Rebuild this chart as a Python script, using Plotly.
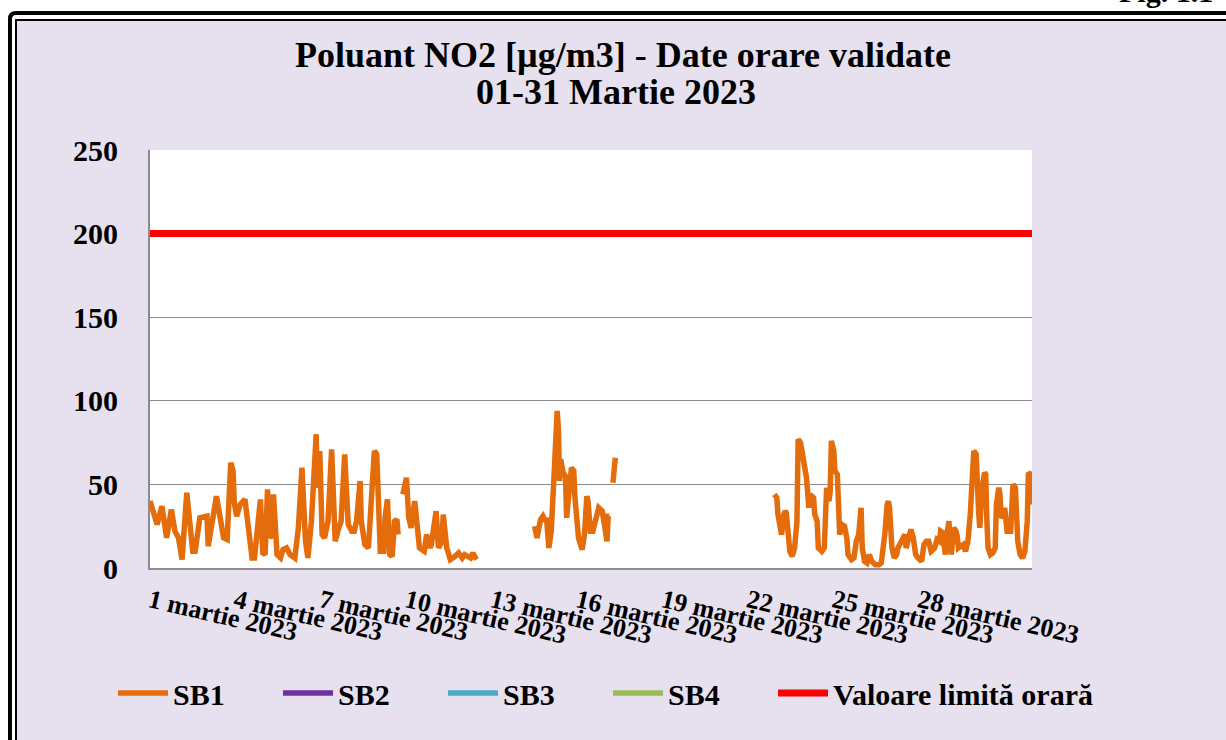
import pandas as pd
import plotly.graph_objects as go

# ---------------- data ----------------
START = "2023-03-01 00:00"
END = "2023-03-31 23:00"
TICK_DAYS = [1, 4, 7, 10, 13, 16, 19, 22, 25, 28]
TICK_LABELS = [f"{d} martie 2023" for d in TICK_DAYS]
LIMIT_VALUE = 200

# hour offset from 1 March 00:00 ; None = missing data (gap)
SB1_HOURS = [
    0, 1, 6, 10, 14, 18, 21, 24, 27, 31, 36, 38, 42, 48, 49, 56, 59, 62, 65, 68,
    70, 71, 73, 76, 80, 86, 88, 93, 95, 97, 99, 101, 102, 104, 105, 107, 110, 112,
    115, 118, 122, 125, 128, 131, 133, 136, 140, 141, 143, 145, 147, 150, 153, 155,
    156, 159, 161, 164, 167, 170, 172, 174, 177, 178, 181, 184, 187, 189, 191, 192,
    194, 197, 198, 200, 202, 204, 206, 208, 209, 211, 213, 216, 218, 220, 223, 225,
    227, 231, 233, 236, 237, 241, 243, 246, 247, 250, 253, 257, 260, 263, 265, 270,
    272, 275, 300,
    324, 326, 329, 331, 333, 334, 336, 337, 338, 340, 343, 344, 345, 346, 348, 350,
    351, 352, 355, 357, 358, 361, 364, 366, 368, 369, 371, 373, 375, 378, 381, 383,
    385, 386, 387, 389, 390, 392, 450,
    526, 528, 529, 531, 532, 534, 535, 536, 538, 539, 541, 543, 545, 546, 548, 550,
    553, 555, 556, 559, 560, 562, 563, 566, 568, 570, 572, 573, 574, 576, 577, 579,
    580, 581, 583, 585, 587, 588, 591, 593, 595, 597, 599, 600, 602, 604, 606, 608,
    611, 614, 616, 619, 621, 622, 623, 625, 627, 629, 630, 633, 635, 636, 637, 639,
    641, 643, 645, 647, 650, 652, 654, 656, 658, 661, 663, 665, 666, 668, 670, 671,
    673, 675, 677, 679, 680, 681, 684, 685, 687, 689, 691, 692, 694, 696, 697, 698,
    699, 701, 703, 704, 705, 706, 708, 710, 712, 713, 715, 716, 717, 719, 720, 722,
    725, 727, 729, 730, 731, 733, 735, 737, 739, 740, 742, 743,
]
SB1_VALUES = [
    40, 38, 26, 37, 18, 35, 22, 18, 5, 45, 10, 10, 30, 31, 13, 43, 30, 18, 17, 63,
    58, 39, 31, 38, 41, 6, 6, 41, 9, 8, 47, 18, 19, 44, 28, 8, 6, 11,
    12, 8, 6, 24, 60, 16, 6, 28, 80, 48, 70, 20, 18, 28, 71, 32,
    16, 24, 28, 68, 26, 22, 22, 28, 52, 28, 14, 12, 48, 70, 68, 38,
    10, 10, 30, 41, 8, 7, 28, 29, 20, None, 44, 54, 30, 24, 40, 28,
    12, 10, 20, 12, 14, 34, 12, 16, 32, 12, 5, 7, 9, 6, 8, 6,
    9, 5, None,
    25, 18, 29, 31, 28, 30, 12, 20, 22, 50, 94, 84, 52, 65, 57, 55,
    30, 38, 60, 58, 42, 18, 11, 20, 43, 40, 22, 22, 28, 36, 34, 22,
    16, 31, 31, None, 51, 66, None,
    44, 42, 32, 26, 20, 32, 34, 33, 20, 10, 7, 12, 28, 77, 75, 68,
    54, 36, 44, 42, 32, 28, 12, 10, 12, 48, 40, 46, 76, 70, 58, 56,
    28, 20, 26, 25, 18, 8, 5, 6, 16, 20, 36, 12, 4, 3, 8, 4,
    2, 2, 3, 20, 38, 40, 36, 12, 6, 8, 12, 16, 18, 20, 12, 18,
    23, 18, 8, 6, 4, 14, 16, 16, 10, 12, 17, 16, 22, 21, 8, 18,
    28, 8, 24, 22, 19, 12, 13, 14, 10, 16, 32, 52, 70, 68, 38, 34,
    24, 48, 57, 56, 28, 12, 8, 9, 12, 38, 48, 44, 30, 32, 36, 22,
    22, 50, 48, 30, 16, 8, 6, 10, 28, 57, 56, 38,
]
SB2_HOURS, SB2_VALUES = [], []
SB3_HOURS, SB3_VALUES = [], []
SB4_HOURS, SB4_VALUES = [], []

SERIES_NAMES = ["SB1", "SB2", "SB3", "SB4"]
SERIES_COLORS = ["#E46C0A", "#7030A0", "#4BACC6", "#9BBB59"]
LIMIT_NAME = "Valoare limită orară"
LIMIT_COLOR = "#FF0000"
TITLE_LINES = ["Poluant NO2 [µg/m3] - Date orare validate", "01-31 Martie 2023"]

# ---------------- helpers ----------------
t0 = pd.Timestamp(START)
t_end = pd.Timestamp(END)


def to_time(hours):
    return [t0 + pd.Timedelta(hours=h) for h in hours]


W, H = 1226, 740
L, R, T, B = 150, 1032, 150, 568  # plot area pixels


def px(x):
    return (x - L) / (R - L)


def py(y):
    return (B - y) / (B - T)


FONT = "Liberation Serif, Times New Roman, serif"
LAVENDER = "#E7E0EF"
GRID = "#8C8C8C"

fig = go.Figure()
series = [
    (SB1_HOURS, SB1_VALUES),
    (SB2_HOURS, SB2_VALUES),
    (SB3_HOURS, SB3_VALUES),
    (SB4_HOURS, SB4_VALUES),
]
for (hrs, vals), name, col in zip(series, SERIES_NAMES, SERIES_COLORS):
    xs = to_time(hrs) if hrs else [t0]
    ys = vals if vals else [None]
    fig.add_trace(go.Scatter(
        x=xs, y=ys, mode="lines", name=name, legend="legend",
        line=dict(color=col, width=5.5), connectgaps=False,
        showlegend=True,
    ))

fig.add_trace(go.Scatter(
    x=[t0, t_end], y=[LIMIT_VALUE, LIMIT_VALUE], mode="lines", name=LIMIT_NAME,
    line=dict(color=LIMIT_COLOR, width=7), legend="legend2",
))

shapes = [
    # white margin outside the framed area
    dict(type="rect", xref="paper", yref="paper", x0=px(-20), x1=px(1300),
         y0=py(19), y1=py(-20), fillcolor="white", line_width=0, layer="below"),
    dict(type="rect", xref="paper", yref="paper", x0=px(-20), x1=px(15),
         y0=py(800), y1=py(-20), fillcolor="white", line_width=0, layer="below"),
    # outer thick frame
    dict(type="path", xref="paper", yref="paper",
         path=f"M {px(10)},{py(800)} L {px(10)},{py(19)} Q {px(10)},{py(13)} {px(16)},{py(13)} L {px(1300)},{py(13)}",
         line=dict(color="black", width=4), layer="below"),
    # inner thin frame
    dict(type="path", xref="paper", yref="paper",
         path=f"M {px(16)},{py(800)} L {px(16)},{py(20)} L {px(1300)},{py(20)}",
         line=dict(color="black", width=2), layer="below"),
]

legend_font = dict(family=FONT, size=30, color="black", weight="bold")

fig.update_layout(
    width=W, height=H,
    margin=dict(l=L, r=W - R, t=T, b=H - B),
    paper_bgcolor=LAVENDER,
    plot_bgcolor="white",
    font=dict(family=FONT, color="black"),
    showlegend=True,
    legend=dict(
        orientation="h", x=px(113), xanchor="left", y=py(693), yanchor="middle",
        font=legend_font, bgcolor="rgba(0,0,0,0)", itemwidth=50,
        entrywidth=100, entrywidthmode="pixels", traceorder="normal",
    ),
    legend2=dict(
        orientation="h", x=px(773), xanchor="left", y=py(693), yanchor="middle",
        font=legend_font, bgcolor="rgba(0,0,0,0)", itemwidth=50,
    ),
    shapes=shapes,
    annotations=[
        dict(text=f"<b>{TITLE_LINES[0]}</b>", xref="paper", yref="paper",
             x=px(623), y=py(55), xanchor="center", yanchor="middle",
             showarrow=False, font=dict(family=FONT, size=36, color="black")),
        dict(text=f"<b>{TITLE_LINES[1]}</b>", xref="paper", yref="paper",
             x=px(616), y=py(92), xanchor="center", yanchor="middle",
             showarrow=False, font=dict(family=FONT, size=36, color="black")),
        dict(text="<b>Fig. 1.1</b>", xref="paper", yref="paper", x=px(1117), y=py(10),
             xanchor="left", yanchor="bottom", showarrow=False,
             font=dict(family=FONT, size=30, color="black")),
    ],
)

fig.update_yaxes(
    range=[0, 250], tickvals=[0, 50, 100, 150, 200, 250],
    showgrid=True, gridcolor=GRID, gridwidth=1.3,
    showline=True, linecolor=GRID, linewidth=2,
    zeroline=False, ticks="", ticklabelstandoff=24,
    tickfont=dict(family=FONT, size=30, color="black", weight="bold"),
)
fig.update_xaxes(
    type="date", range=[t0, t_end],
    tickvals=[t0 + pd.Timedelta(days=d - 1) for d in TICK_DAYS],
    ticktext=TICK_LABELS, tickangle=13,
    showgrid=False, showline=True, linecolor=GRID, linewidth=2,
    zeroline=False, ticks="", ticklabelstandoff=6,
    tickfont=dict(family=FONT, size=26, color="black", weight="bold"),
)

fig.write_html(
    "out.html",
    config={"displayModeBar": False},
    post_script="document.body.style.margin='0';",
)
